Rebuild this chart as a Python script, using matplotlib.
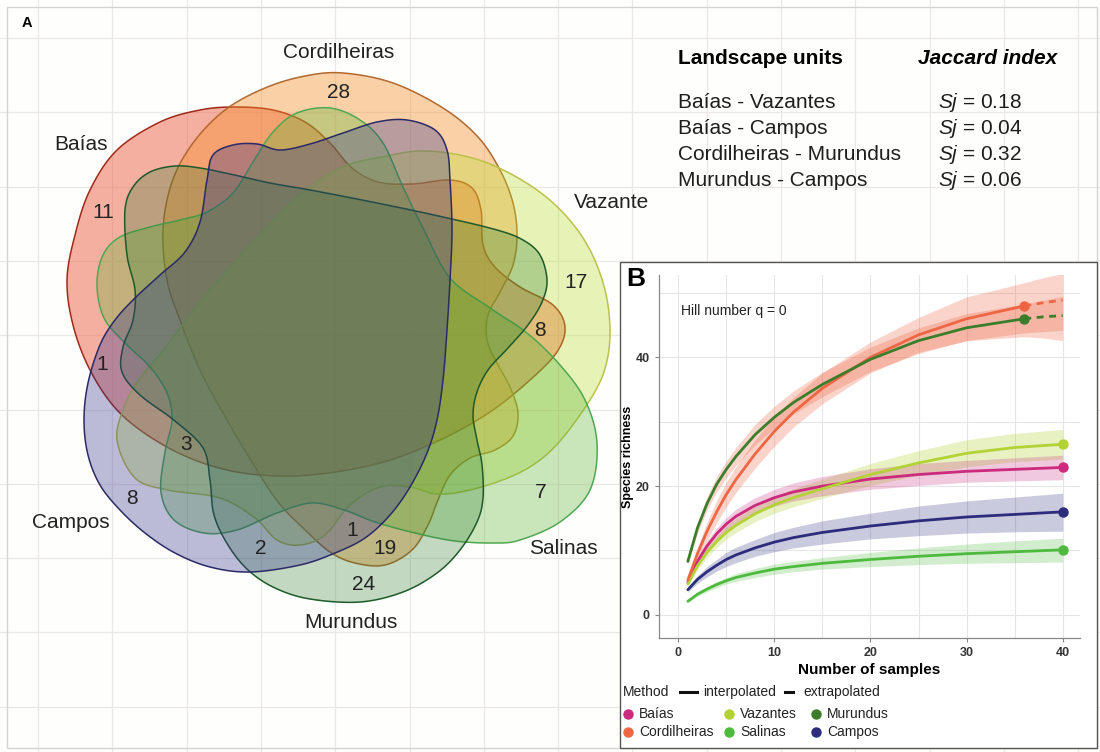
import numpy as np
import matplotlib
matplotlib.use("Agg")
import matplotlib.pyplot as plt
from matplotlib.patches import Polygon, Rectangle
from matplotlib.colors import to_rgba

plt.rcParams['font.family'] = ['Liberation Sans', 'DejaVu Sans']
plt.rcParams['mathtext.fontset'] = 'custom'
plt.rcParams['mathtext.it'] = 'Liberation Sans:italic'
plt.rcParams['mathtext.rm'] = 'Liberation Sans'

# ---- panel A: six-set Venn diagram -------------------------------------
set_names = ["Baías", "Cordilheiras", "Vazante", "Salinas", "Murundus", "Campos"]
set_fill = ["#EB5032", "#F58C28", "#BEDC32", "#5AB432", "#287828", "#30308C"]
set_alpha = [0.45, 0.40, 0.35, 0.32, 0.28, 0.32]
set_edge = ["#A02A1A", "#B0692E", "#B9C24A", "#4FA852", "#1F5A2A", "#2A2A66"]

# outline control points (pixel space) for each set
shape_baias = [(67, 280), (75, 235), (90, 190), (117, 150), (160, 122), (200, 110), (235, 107),
               (273, 110), (305, 122), (330, 143), (352, 168), (378, 182), (412, 184), (450, 180),
               (472, 188), (481, 210), (483, 245), (495, 267), (520, 287), (553, 305), (565, 327),
               (557, 352), (530, 380), (490, 412), (440, 440), (380, 463), (310, 475), (250, 474),
               (200, 462), (155, 440), (117, 410), (90, 370), (73, 325)]
shape_cordilheiras = [(343, 73), (393, 83), (443, 108), (478, 137), (500, 170), (513, 203), (517, 235),
                      (513, 265), (500, 292), (488, 315), (487, 340), (497, 363), (510, 387), (518, 413),
                      (513, 436), (495, 450), (470, 458), (450, 475), (438, 500), (428, 525), (412, 550),
                      (385, 565), (355, 563), (330, 552), (303, 528), (278, 502), (255, 467), (227, 420),
                      (200, 370), (180, 320), (167, 280), (163, 230), (172, 182), (193, 143), (225, 110),
                      (265, 88), (305, 76)]
shape_vazante = [(117, 440), (125, 405), (140, 378), (165, 348), (190, 315), (217, 282), (255, 240),
                 (300, 195), (343, 167), (387, 156), (420, 151), (460, 155), (497, 167), (537, 190),
                 (567, 217), (590, 250), (605, 290), (610, 330), (606, 365), (593, 395), (565, 435),
                 (540, 460), (510, 477), (470, 490), (437, 494), (410, 487), (380, 487), (350, 505),
                 (325, 535), (300, 545), (277, 540), (255, 518), (220, 498), (168, 490), (135, 478)]
shape_salinas = [(330, 108), (360, 120), (383, 143), (403, 187), (423, 228), (450, 278), (490, 308),
                 (527, 333), (560, 365), (585, 400), (597, 443), (590, 490), (560, 522), (520, 540),
                 (494, 543), (455, 541), (415, 533), (375, 522), (344, 510), (312, 503), (277, 513),
                 (237, 530), (204, 533), (174, 520), (161, 492), (165, 452), (172, 420), (167, 393),
                 (150, 367), (125, 343), (104, 318), (97, 285), (103, 255), (120, 237), (150, 227),
                 (180, 220), (207, 212), (233, 193), (253, 162), (273, 132), (297, 113)]
shape_murundus = [(125, 210), (133, 187), (150, 172), (175, 166), (200, 168), (230, 174), (270, 183),
                  (310, 190), (377, 203), (443, 217), (497, 230), (523, 240), (540, 255), (547, 280),
                  (542, 302), (528, 325), (508, 348), (488, 370), (477, 392), (473, 415), (477, 440),
                  (482, 465), (483, 498), (477, 522), (460, 550), (437, 573), (403, 592), (360, 602),
                  (310, 599), (275, 588), (248, 570), (228, 545), (214, 515), (210, 480), (203, 448),
                  (175, 421), (140, 395), (122, 372), (123, 347), (133, 320), (135, 290), (127, 255)]
shape_campos = [(207, 180), (213, 155), (233, 145), (257, 144), (280, 150), (310, 144), (343, 133),
                (377, 122), (407, 120), (435, 130), (447, 150), (450, 180), (452, 230), (450, 280),
                (447, 330), (443, 380), (437, 420), (427, 453), (410, 487), (390, 515), (365, 538),
                (335, 553), (300, 565), (250, 572), (210, 567), (175, 553), (145, 533), (120, 510),
                (100, 485), (88, 455), (84, 420), (88, 383), (100, 345), (115, 320), (135, 298),
                (160, 275), (185, 252), (200, 222)]
shapes = [shape_baias, shape_cordilheiras, shape_vazante, shape_salinas, shape_murundus, shape_campos]

region_counts = [28, 11, 17, 8, 1, 3, 8, 7, 2, 1, 19, 24]
region_pos = [(339, 93), (103, 213), (576, 283), (540, 330), (102, 364), (186, 445),
              (132, 499), (541, 492), (261, 548), (352, 531), (385, 549), (364, 584)]
name_pos = [(81, 145), (339, 53), (612, 203), (563, 548), (351, 623), (71, 523)]

# ---- Jaccard table ------------------------------------------------------
pairs = ["Baías - Vazantes", "Baías - Campos", "Cordilheiras - Murundus", "Murundus - Campos"]
jaccard = [0.18, 0.04, 0.32, 0.06]

# ---- panel B: rarefaction curves (q = 0) --------------------------------
n_samples = [1, 2, 3, 4, 5, 6, 8, 10, 12, 15, 20, 25, 30, 35, 40]
baias_s = [5.0, 8.3, 10.7, 12.6, 14.1, 15.3, 17.0, 18.2, 19.1, 20.0, 21.1, 21.8, 22.3, 22.6, 22.9]
baias_lo = [4.6, 7.7, 9.9, 11.7, 13.1, 14.2, 15.8, 16.9, 17.7, 18.5, 19.5, 20.1, 20.6, 20.8, 21.0]
baias_hi = [5.4, 8.9, 11.5, 13.5, 15.1, 16.4, 18.2, 19.5, 20.5, 21.5, 22.7, 23.5, 24.0, 24.4, 24.8]
vazantes_s = [4.8, 7.6, 9.7, 11.4, 12.8, 13.9, 15.7, 17.1, 18.2, 19.6, 21.8, 23.6, 25.1, 26.0, 26.5]
vazantes_lo = [4.4, 7.0, 8.9, 10.5, 11.8, 12.8, 14.5, 15.8, 16.8, 18.1, 20.1, 21.7, 23.0, 23.8, 24.2]
vazantes_hi = [5.2, 8.2, 10.5, 12.3, 13.8, 15.0, 16.9, 18.4, 19.6, 21.1, 23.5, 25.5, 27.2, 28.2, 28.8]
campos_s = [3.9, 5.5, 6.7, 7.7, 8.6, 9.3, 10.4, 11.3, 12.0, 12.8, 13.8, 14.6, 15.2, 15.6, 16.0]
campos_lo = [3.5, 4.9, 5.9, 6.8, 7.5, 8.1, 9.1, 9.8, 10.4, 11.0, 11.8, 12.3, 12.7, 12.9, 13.0]
campos_hi = [4.3, 6.1, 7.5, 8.6, 9.7, 10.5, 11.7, 12.8, 13.6, 14.6, 15.8, 16.9, 17.7, 18.3, 18.9]
salinas_s = [2.1, 3.2, 4.0, 4.7, 5.3, 5.8, 6.5, 7.1, 7.5, 8.0, 8.6, 9.1, 9.5, 9.8, 10.1]
salinas_lo = [1.9, 2.9, 3.6, 4.2, 4.8, 5.2, 5.8, 6.3, 6.7, 7.1, 7.5, 7.8, 8.0, 8.1, 8.2]
salinas_hi = [2.3, 3.5, 4.4, 5.2, 5.8, 6.4, 7.2, 7.9, 8.3, 8.9, 9.7, 10.4, 11.0, 11.5, 11.9]

# Cordilheiras and Murundus: observed at 36 samples, extrapolated to 40
n_obs36 = [1, 2, 3, 4, 5, 6, 8, 10, 12, 15, 20, 25, 30, 36]
n_ext = [36, 38, 40]
n_band36 = [1, 2, 3, 4, 5, 6, 8, 10, 12, 15, 20, 25, 30, 36, 38, 40]
cord_s = [5.4, 9.5, 13.0, 16.0, 18.7, 21.0, 25.0, 28.5, 31.5, 35.2, 40.0, 43.5, 46.0, 48.0]
cord_ext = [48.0, 48.5, 48.9]
cord_lo = [4.8, 8.5, 11.6, 14.3, 16.8, 19.0, 22.8, 26.2, 29.2, 32.8, 37.6, 40.8, 42.6, 43.2, 43.0, 42.6]
cord_hi = [6.0, 10.5, 14.4, 17.7, 20.6, 23.0, 27.2, 30.8, 33.8, 37.6, 42.4, 46.2, 49.4, 51.6, 52.4, 53.0]
muru_s = [8.3, 13.5, 17.3, 20.3, 22.6, 24.6, 28.0, 30.7, 33.0, 35.8, 39.7, 42.6, 44.6, 46.0]
muru_ext = [46.0, 46.3, 46.5]
muru_lo = [7.8, 12.7, 16.3, 19.1, 21.3, 23.2, 26.4, 29.0, 31.2, 33.9, 37.8, 40.6, 42.6, 43.8, 44.0, 44.2]
muru_hi = [8.8, 14.3, 18.3, 21.5, 23.9, 26.0, 29.6, 32.4, 34.8, 37.7, 41.6, 44.6, 46.8, 48.3, 48.9, 49.5]

c_baias = "#CB2A7D"
c_cord = "#EE6644"
c_vaz = "#B2D235"
c_sal = "#4DBA3E"
c_muru = "#3C7D2C"
c_camp = "#2C2C7C"


def closed_curve(pts, n=16):
    """Closed Catmull-Rom curve through the outline control points."""
    P = np.asarray(pts, float)
    N = len(P)
    t = np.linspace(0, 1, n, endpoint=False)[:, None]
    segs = []
    for i in range(N):
        p0, p1, p2, p3 = P[i - 1], P[i], P[(i + 1) % N], P[(i + 2) % N]
        segs.append(0.5 * (2 * p1 + (-p0 + p2) * t + (2 * p0 - 5 * p1 + 4 * p2 - p3) * t ** 2
                           + (-p0 + 3 * p1 - 3 * p2 + p3) * t ** 3))
    return np.vstack(segs)


fig = plt.figure(figsize=(11, 7.52), dpi=100)
fig.patch.set_facecolor("#FEFEFD")

bg = fig.add_axes([0, 0, 1, 1])
bg.set_xlim(0, 1100)
bg.set_ylim(752, 0)
bg.axis("off")

# faint page grid
for g in np.arange(38, 1100, 74.3):
    bg.axvline(g, color="#ECE7E7", lw=0.9, zorder=0)
for g in np.arange(38, 752, 74.3):
    bg.axhline(g, color="#ECE7E7", lw=0.9, zorder=0)
bg.add_patch(Rectangle((7, 7), 1090, 741, fill=False, edgecolor="#D4D4D4", lw=1.0, zorder=0.5))

for pts, fc, a, ec in zip(shapes, set_fill, set_alpha, set_edge):
    bg.add_patch(Polygon(closed_curve(pts), closed=True, facecolor=to_rgba(fc, a),
                         edgecolor=ec, lw=1.1, zorder=2))

for val, (x, y) in zip(region_counts, region_pos):
    bg.text(x, y, str(val), fontsize=15, ha="center", va="center", color="#222222", zorder=3)
for name, (x, y) in zip(set_names, name_pos):
    bg.text(x, y, name, fontsize=15, ha="center", va="center", color="#222222", zorder=3)

bg.text(27, 23, "A", fontsize=10.5, fontweight="bold", ha="center", va="center")

# Jaccard table
bg.text(678, 58, "Landscape units", fontsize=15, fontweight="bold", ha="left", va="center")
bg.text(918, 58, "Jaccard index", fontsize=15, fontweight="bold", style="italic",
        ha="left", va="center")
for i, (p, j) in enumerate(zip(pairs, jaccard)):
    y = 102 + i * 26.3
    bg.text(678, y, p, fontsize=15, ha="left", va="center", color="#1E1E1E")
    bg.text(938, y, r"$\mathit{Sj}$" + f" = {j:.2f}", fontsize=15, ha="left", va="center",
            color="#1E1E1E")

# panel B frame
bg.add_patch(Rectangle((620, 262), 477, 486, facecolor="white", edgecolor="#555555",
                       lw=1.0, zorder=5))
bg.text(636, 279, "B", fontsize=19, fontweight="bold", ha="center", va="center", zorder=6)

ax = fig.add_axes([659 / 1100, 1 - 638 / 752, (1080 - 659) / 1100, (638 - 275) / 752])
ax.set_facecolor("white")
ax.set_xlim(-2.0, 41.8)
ax.set_ylim(-3.6, 52.8)

bands = [(n_band36, muru_lo, muru_hi, c_cord, 0.28), (n_band36, cord_lo, cord_hi, c_cord, 0.28),
         (n_samples, vazantes_lo, vazantes_hi, c_vaz, 0.3), (n_samples, baias_lo, baias_hi, c_baias, 0.25),
         (n_samples, campos_lo, campos_hi, c_camp, 0.25), (n_samples, salinas_lo, salinas_hi, c_sal, 0.25)]
for xs, lo, hi, c, a in bands:
    ax.fill_between(xs, lo, hi, color=c, alpha=a, lw=0)

curves = [(n_samples, salinas_s, c_sal), (n_samples, campos_s, c_camp),
          (n_samples, baias_s, c_baias), (n_samples, vazantes_s, c_vaz),
          (n_obs36, cord_s, c_cord), (n_obs36, muru_s, c_muru)]
for xs, ys, c in curves:
    ax.plot(xs, ys, color=c, lw=2.0, solid_capstyle="round")
    ax.plot(xs[-1], ys[-1], "o", color=c, ms=6.5)
ax.plot(n_ext, cord_ext, color=c_cord, lw=2.0, ls=(0, (2.5, 2)))
ax.plot(n_ext, muru_ext, color=c_muru, lw=2.0, ls=(0, (2.5, 2)))

ax.set_xticks([0, 10, 20, 30, 40])
ax.set_xticks([5, 15, 25, 35], minor=True)
ax.set_yticks([0, 20, 40])
ax.set_yticks([10, 30, 50], minor=True)
ax.grid(True, which="both", color="#E6E6E6", lw=0.8)
ax.set_axisbelow(True)
for s in ["top", "right"]:
    ax.spines[s].set_visible(False)
for s in ["left", "bottom"]:
    ax.spines[s].set_color("#888888")
    ax.spines[s].set_linewidth(0.9)
ax.tick_params(which="major", length=3, color="#888888", labelsize=9, labelcolor="#333333")
ax.tick_params(which="minor", length=0)
for lab in ax.get_xticklabels() + ax.get_yticklabels():
    lab.set_fontweight("bold")
ax.set_xlabel("Number of samples", fontsize=11, fontweight="bold", labelpad=3)
ax.set_ylabel("Species richness", fontsize=9, fontweight="bold", labelpad=1)
ax.text(0.3, 47.2, "Hill number q = 0", fontsize=10, ha="left", va="center", color="#222222")

# legend below the inset
bg.text(623, 692, "Method", fontsize=10, ha="left", va="center", color="#222222", zorder=6)
bg.plot([680, 697], [692, 692], color="#111111", lw=2.2, zorder=6)
bg.text(703, 692, "interpolated", fontsize=10, ha="left", va="center", color="#222222", zorder=6)
bg.plot([785, 793], [692, 692], color="#111111", lw=2.2, zorder=6)
bg.text(803, 692, "extrapolated", fontsize=10, ha="left", va="center", color="#222222", zorder=6)

leg_names = ["Baías", "Cordilheiras", "Vazantes", "Salinas", "Murundus", "Campos"]
leg_cols = [c_baias, c_cord, c_vaz, c_sal, c_muru, c_camp]
leg_x = [628, 628, 729, 729, 816, 816]
leg_y = [714, 732, 714, 732, 714, 732]
for name, c, x, y in zip(leg_names, leg_cols, leg_x, leg_y):
    bg.plot(x, y, "o", color=c, ms=6.5, zorder=6)
    bg.text(x + 11, y, name, fontsize=10, ha="left", va="center", color="#222222", zorder=6)

fig.savefig("out.png", dpi=100, facecolor=fig.get_facecolor())
